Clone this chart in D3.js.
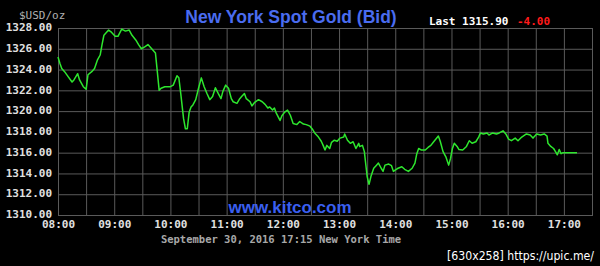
<!DOCTYPE html>
<html><head><meta charset="utf-8">
<script src="https://cdn.jsdelivr.net/npm/d3@7"></script>
<style>
html,body{margin:0;padding:0;background:#000;}
svg{display:block;}
</style></head>
<body>
<svg id="chart" width="600" height="266"></svg>
<script>
// ---- data ----
const times = ["08:00","08:02","08:04","08:07","08:11","08:15","08:17","08:21","08:23","08:27","08:30","08:32","08:36","08:39","08:42","08:45","08:47","08:49","08:54","08:57","09:01","09:04","09:08","09:12","09:16","09:19","09:23","09:26","09:29","09:33","09:36","09:40","09:44","09:46","09:48","09:50","09:54","10:00","10:03","10:07","10:09","10:11","10:14","10:16","10:18","10:20","10:22","10:24","10:27","10:30","10:33","10:36","10:39","10:42","10:45","10:48","10:51","10:54","10:56","10:59","11:02","11:05","11:07","11:11","11:14","11:16","11:19","11:21","11:25","11:27","11:30","11:34","11:38","11:41","11:44","11:46","11:49","11:51","11:53","11:57","11:59","12:02","12:05","12:08","12:11","12:15","12:18","12:22","12:25","12:29","12:32","12:34","12:38","12:41","12:43","12:45","12:47","12:50","12:52","12:55","12:58","13:01","13:05","13:06","13:09","13:12","13:15","13:18","13:21","13:22","13:25","13:27","13:29","13:30","13:32","13:34","13:37","13:40","13:42","13:45","13:47","13:49","13:53","13:56","13:58","14:01","14:03","14:07","14:10","14:14","14:18","14:21","14:23","14:25","14:28","14:32","14:35","14:38","14:41","14:46","14:48","14:51","14:54","14:57","14:59","15:01","15:03","15:06","15:08","15:12","15:16","15:19","15:22","15:26","15:29","15:31","15:34","15:38","15:40","15:44","15:48","15:51","15:55","15:58","16:01","16:04","16:08","16:11","16:15","16:20","16:24","16:27","16:31","16:35","16:39","16:42","16:43","16:46","16:49","16:51","16:53","16:55","16:57","16:59","17:14"];
const bids = [1325.2,1324.6,1324.1,1323.8,1323.3,1322.8,1323.0,1323.6,1323.0,1322.35,1322.1,1323.5,1323.8,1324.1,1324.9,1325.4,1326.4,1327.3,1327.8,1327.6,1327.2,1327.2,1327.9,1327.7,1327.8,1327.3,1326.85,1326.4,1326.0,1326.2,1326.4,1326.0,1325.6,1323.8,1322.0,1322.2,1322.35,1322.35,1322.5,1323.4,1323.2,1321.7,1319.3,1318.3,1318.3,1319.9,1320.4,1320.6,1321.1,1322.2,1323.2,1322.35,1321.7,1321.1,1321.4,1322.25,1321.7,1321.2,1321.9,1322.5,1322.2,1321.2,1320.9,1320.75,1321.2,1321.4,1321.7,1321.2,1320.9,1320.5,1320.85,1321.1,1320.9,1320.65,1320.3,1320.4,1320.1,1320.3,1319.8,1319.1,1319.55,1319.9,1320.1,1319.6,1318.8,1318.7,1319.0,1318.75,1318.7,1318.55,1318.2,1317.9,1317.5,1317.1,1316.7,1316.25,1316.7,1316.4,1317.0,1317.2,1317.1,1317.4,1317.5,1317.8,1317.2,1316.9,1317.05,1316.4,1316.9,1316.6,1316.7,1316.1,1314.5,1313.7,1312.95,1313.7,1314.5,1314.8,1315.0,1314.5,1314.2,1314.8,1314.9,1314.75,1314.2,1314.4,1314.5,1314.65,1314.4,1314.2,1314.5,1315.0,1315.9,1316.4,1316.25,1316.25,1316.5,1316.7,1317.05,1317.6,1317.1,1316.1,1315.6,1314.8,1315.45,1316.4,1316.9,1316.6,1316.3,1316.25,1316.6,1317.15,1316.9,1317.05,1317.5,1317.9,1317.8,1317.9,1317.7,1317.9,1317.8,1317.9,1318.1,1317.8,1317.3,1317.15,1317.4,1317.15,1317.5,1317.8,1317.7,1317.4,1317.8,1317.7,1317.8,1317.6,1316.9,1316.6,1316.4,1316.1,1315.8,1316.3,1315.9,1316.0,1316.0];
const priceTicks = [1310,1312,1314,1316,1318,1320,1322,1324,1326,1328];
const hourTicks = ["08:00","09:00","10:00","11:00","12:00","13:00","14:00","15:00","16:00","17:00"];
const gridTimes = ["08:00","08:30","09:00","09:30","10:00","10:30","11:00","11:30","12:00","12:30","13:00","13:30","14:00","14:30","15:00","15:30","16:00","16:30","17:00","17:30"];
const titleText = "New York Spot Gold (Bid)";
const unitText = "$USD/oz";
const lastText = "Last 1315.90";
const changeText = "-4.00";
const siteText = "www.kitco.com";
const dateText = "September 30, 2016 17:15 New York Time";
const stampText = "[630x258] https://upic.me/";

// ---- chart ----
const parse = d3.timeParse("%H:%M");
const svg = d3.select("#chart");
const m = {left:58, right:8, top:28, bottom:51};
const W = 600, H = 266;
const x = d3.scaleTime().domain([parse("08:00"), parse("17:30")]).range([m.left, W - m.right]);
const y = d3.scaleLinear().domain([1310, 1328]).range([H - m.bottom, m.top]);
const mono = "'DejaVu Sans Mono', 'Liberation Mono', monospace";
const gridColor = "#5a5a5a";

// horizontal grid + price labels
const yAxis = svg.append("g").attr("transform", `translate(${m.left},0)`)
  .call(d3.axisLeft(y).tickValues(priceTicks).tickSize(-(W - m.right - m.left)).tickPadding(6).tickFormat(d3.format(".2f")));
yAxis.select(".domain").remove();
yAxis.selectAll(".tick line").attr("stroke", gridColor).attr("stroke-width", 1);
yAxis.selectAll(".tick text").attr("fill", "#e0e0e0").attr("font-family", mono).attr("font-weight", "bold").attr("font-size", "11px").attr("dy", "0.25em");

// vertical grid
const xGrid = svg.append("g").attr("transform", `translate(0,${H - m.bottom})`)
  .call(d3.axisBottom(x).tickValues(gridTimes.map(parse)).tickSize(-(H - m.bottom - m.top)).tickFormat(""));
xGrid.select(".domain").remove();
xGrid.selectAll(".tick line").attr("stroke", gridColor).attr("stroke-width", 1);

// hour labels
const xAxis = svg.append("g").attr("transform", `translate(0,${H - m.bottom})`)
  .call(d3.axisBottom(x).tickValues(hourTicks.map(parse)).tickSize(0).tickPadding(5).tickFormat(d3.timeFormat("%H:%M")));
xAxis.select(".domain").remove();
xAxis.selectAll(".tick text").attr("fill", "#e0e0e0").attr("font-family", mono).attr("font-weight", "bold").attr("font-size", "11px");

// plot border
svg.append("rect").attr("x", m.left + 0.5).attr("y", m.top + 0.5)
  .attr("width", W - m.right - m.left).attr("height", H - m.bottom - m.top)
  .attr("fill", "none").attr("stroke", gridColor);

// price line
const pts = times.map((t, i) => ({t: parse(t), v: bids[i]}));
svg.append("path").datum(pts)
  .attr("fill", "none").attr("stroke", "#2ee62e").attr("stroke-width", 1.5).attr("stroke-linejoin", "round")
  .attr("d", d3.line().x(d => x(d.t)).y(d => y(d.v)));

// texts
svg.append("text").attr("x", 291).attr("y", 23).attr("text-anchor", "middle")
  .attr("font-family", "Liberation Sans, Arial, sans-serif").attr("font-weight", "bold").attr("font-size", "17.5px")
  .attr("fill", "#4a6cf0").text(titleText);
svg.append("text").attr("x", 19).attr("y", 19)
  .attr("font-family", mono).attr("font-size", "11px").attr("fill", "#b0b0b0").text(unitText);
svg.append("text").attr("x", 429).attr("y", 25)
  .attr("font-family", mono).attr("font-weight", "bold").attr("font-size", "11px").attr("fill", "#ffffff").text(lastText);
svg.append("text").attr("x", 517).attr("y", 25)
  .attr("font-family", mono).attr("font-weight", "bold").attr("font-size", "11px").attr("fill", "#ff1a1a").text(changeText);
svg.append("text").attr("x", 290).attr("y", 213).attr("text-anchor", "middle")
  .attr("font-family", "Liberation Sans, Arial, sans-serif").attr("font-weight", "bold").attr("font-size", "17px")
  .attr("fill", "#3a5ff0").text(siteText);
svg.append("text").attr("x", 281).attr("y", 242.5).attr("text-anchor", "middle")
  .attr("font-family", mono).attr("font-weight", "bold").attr("font-size", "10.5px").attr("fill", "#a8a8a8").text(dateText);
svg.append("text").attr("x", 447).attr("y", 260)
  .attr("font-family", "'DejaVu Sans Condensed', 'DejaVu Sans', sans-serif").attr("font-size", "12px")
  .attr("textLength", 147).attr("lengthAdjust", "spacingAndGlyphs")
  .attr("fill", "#ffffff").text(stampText);
</script>
</body></html>
